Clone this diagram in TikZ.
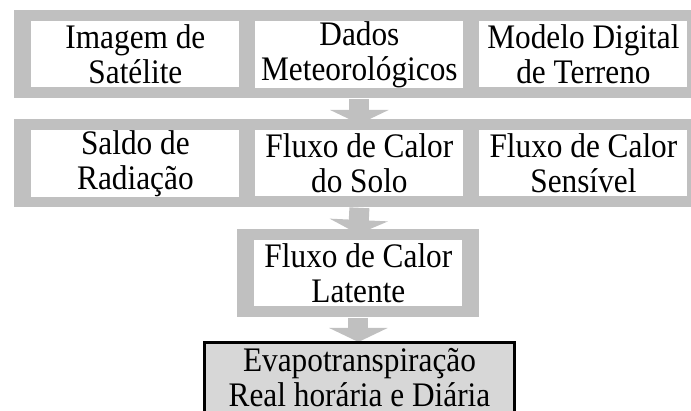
\documentclass[tikz,border=0pt]{standalone}
\usepackage{fontspec}
\setmainfont[FakeStretch=0.91]{Liberation Serif}
\usetikzlibrary{arrows.meta}
\definecolor{bandgray}{RGB}{192,192,192}
\definecolor{endgray}{RGB}{215,215,215}
\begin{document}
\begin{tikzpicture}[x=0.5pt,y=-0.5pt,
        band/.style={fill=bandgray, inner sep=0pt, anchor=north west, minimum height=44pt},
        box/.style={fill=white, inner sep=0pt, anchor=north west, minimum width=104pt, minimum height=33pt,
                align=center, font=\fontsize{17.2}{17.6}\selectfont},
        bigarrow/.style={draw=bandgray, line width=10pt, -{Triangle[width=29pt,length=7pt]}}]
        \useasboundingbox (0,0) rectangle (691,411);
        % bands
        \node [band, minimum width=345pt] (inputs) at (14,10) {};
        \node [band, minimum width=345pt] (fluxes) at (14,119) {};
        \node [band, minimum width=121pt] (latent) at (237,229) {};
        % arrows
        \draw [bigarrow, shorten >=-2.5pt] (inputs.south) -- (fluxes.north);
        \draw [bigarrow, shorten >=-2.5pt] (fluxes.south) -- (latent.north);
        \draw [bigarrow, shorten >=-0.5pt] (latent.south) -- (latent.south |- 0,341);
        % first row
        \node [box] (img) at (31,21) {Imagem de\\Satélite};
        \node [box] (met) at (255,21) {Dados\\Meteorológicos};
        \node [box] (mdt) at (479,21) {Modelo Digital\\de Terreno};
        % second row
        \node [box] (rn) at (31,130) {Saldo de\\Radiação};
        \node [box] (g) at (255,130) {Fluxo de Calor\\do Solo};
        \node [box] (h) at (479,130) {Fluxo de Calor\\Sensível};
        % third row
        \node [box] (le) at (254,240) {Fluxo de Calor\\Latente};
        % result
        \node [box, fill=endgray, draw=black, line width=1.5pt, minimum width=155pt, minimum height=35pt] (et) at (203,341)
                {Evapotranspiração\\Real horária e Diária};
\end{tikzpicture}
\end{document}
